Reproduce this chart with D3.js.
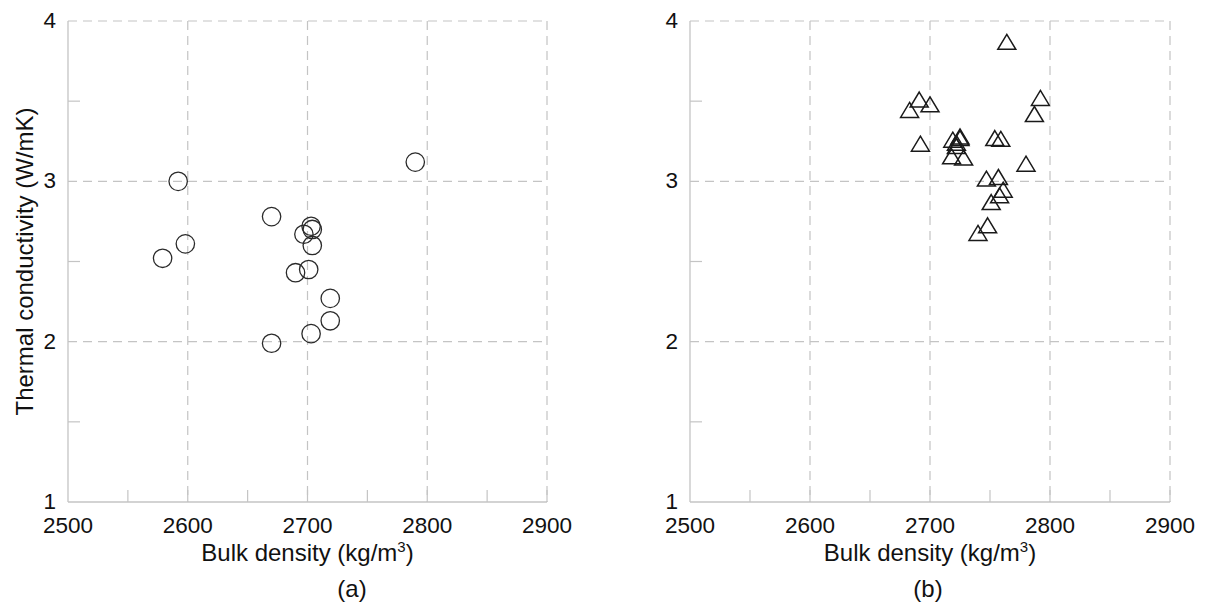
<!DOCTYPE html>
<html>
<head>
<meta charset="utf-8">
<script src="https://cdn.jsdelivr.net/npm/d3@7"></script>
<style>
  body { margin: 0; background: #fff; }
  text { font-family: "Liberation Sans", Arial, sans-serif; fill: #111; }
</style>
</head>
<body>
<svg id="chart" width="1205" height="604"></svg>
<script>
// axis ticks
const xTicks = [2500, 2600, 2700, 2800, 2900];
const xMinor = [2550, 2650, 2750, 2850];
const yTicks = [1, 2, 3, 4];
const yMinor = [1.5, 2.5, 3.5];

// panel (a): bulk density vs thermal conductivity (circles)
const densityA = [2592, 2598, 2579, 2670, 2703, 2704, 2697, 2704, 2701, 2690, 2719, 2719, 2703, 2670, 2790];
const conductA = [3.00, 2.61, 2.52, 2.78, 2.72, 2.70, 2.67, 2.60, 2.45, 2.43, 2.27, 2.13, 2.05, 1.99, 3.12];

// panel (b): triangles
const densityB = [2764, 2691, 2700, 2683, 2692, 2719, 2725, 2725, 2722, 2722, 2718, 2728,
                  2754, 2759, 2780, 2787, 2792, 2747, 2757, 2761, 2758, 2751, 2748, 2740];
const conductB = [3.87, 3.51, 3.48, 3.445, 3.235, 3.26, 3.28, 3.27, 3.22, 3.24, 3.156, 3.148,
                  3.27, 3.265, 3.11, 3.42, 3.52, 3.017, 3.027, 2.948, 2.913, 2.871, 2.726, 2.678];

const svg = d3.select("#chart");
const gridColor = "#c4c4c4";

const yScale = d3.scaleLinear().domain([1, 4]).range([502, 21]);

function drawPanel(x0, x1, xs, ys, shape, caption, captionX, showTitle) {
    const xScale = d3.scaleLinear().domain([2500, 2900]).range([x0, x1]);
    const g = svg.append("g");

    // dashed grid
    g.selectAll(".vgrid").data(xTicks.slice(1)).join("line")
        .attr("x1", d => xScale(d)).attr("x2", d => xScale(d))
        .attr("y1", yScale(4)).attr("y2", yScale(1))
        .attr("stroke", gridColor).attr("stroke-width", 1.2)
        .attr("stroke-dasharray", "9,6");
    g.selectAll(".hgrid").data(yTicks.slice(1)).join("line")
        .attr("x1", xScale(2500)).attr("x2", xScale(2900))
        .attr("y1", d => yScale(d)).attr("y2", d => yScale(d))
        .attr("stroke", gridColor).attr("stroke-width", 1.2)
        .attr("stroke-dasharray", "9,6");

    // axis lines
    g.append("line").attr("x1", xScale(2500)).attr("x2", xScale(2500))
        .attr("y1", yScale(4)).attr("y2", yScale(1))
        .attr("stroke", gridColor).attr("stroke-width", 1.3);
    g.append("line").attr("x1", xScale(2500)).attr("x2", xScale(2900))
        .attr("y1", yScale(1)).attr("y2", yScale(1))
        .attr("stroke", gridColor).attr("stroke-width", 1.3);

    // minor ticks (inside)
    g.selectAll(".xminor").data(xMinor.concat(xTicks.slice(1))).join("line")
        .attr("x1", d => xScale(d)).attr("x2", d => xScale(d))
        .attr("y1", yScale(1)).attr("y2", yScale(1) - 12)
        .attr("stroke", gridColor).attr("stroke-width", 1.2);
    g.selectAll(".yminor").data(yMinor).join("line")
        .attr("x1", xScale(2500)).attr("x2", xScale(2500) + 12)
        .attr("y1", d => yScale(d)).attr("y2", d => yScale(d))
        .attr("stroke", gridColor).attr("stroke-width", 1.2);

    // tick labels
    g.selectAll(".xlab").data(xTicks).join("text")
        .attr("x", d => xScale(d)).attr("y", 533)
        .attr("text-anchor", "middle").attr("font-size", 22.5)
        .text(d => d);
    g.selectAll(".ylab").data(yTicks).join("text")
        .attr("x", xScale(2500) - 12).attr("y", d => yScale(d) + 7)
        .attr("text-anchor", "end").attr("font-size", 22.5)
        .text(d => d);

    // x title
    const xt = g.append("text")
        .attr("x", (x0 + x1) / 2).attr("y", 561)
        .attr("text-anchor", "middle").attr("font-size", 24);
    xt.append("tspan").text("Bulk density (kg/m");
    xt.append("tspan").attr("font-size", 15).attr("dy", -9).text("3");
    xt.append("tspan").attr("dy", 9).text(")");

    g.append("text")
        .attr("x", captionX).attr("y", 597)
        .attr("text-anchor", "middle").attr("font-size", 24)
        .text(caption);

    if (showTitle) {
        g.append("text")
            .attr("transform", `translate(33,${(yScale(1) + yScale(4)) / 2}) rotate(-90)`)
            .attr("text-anchor", "middle").attr("font-size", 24)
            .text("Thermal conductivity (W/mK)");
    }

    // markers
    const pts = xs.map((d, i) => ({ x: d, y: ys[i] }));
    if (shape === "circle") {
        g.selectAll(".pt").data(pts).join("circle")
            .attr("cx", d => xScale(d.x)).attr("cy", d => yScale(d.y))
            .attr("r", 9.2)
            .attr("fill", "none").attr("stroke", "#2a2a2a").attr("stroke-width", 1.3);
    } else {
        const w = 9, h = 7.5;
        g.selectAll(".pt").data(pts).join("path")
            .attr("d", d => {
                const cx = xScale(d.x), cy = yScale(d.y);
                return `M${cx},${cy - h}L${cx + w},${cy + h}L${cx - w},${cy + h}Z`;
            })
            .attr("fill", "none").attr("stroke", "#1a1a1a").attr("stroke-width", 1.5);
    }
}

drawPanel(68, 547, densityA, conductA, "circle", "(a)", 352, true);
drawPanel(690, 1170, densityB, conductB, "triangle", "(b)", 928, false);
</script>
</body>
</html>
